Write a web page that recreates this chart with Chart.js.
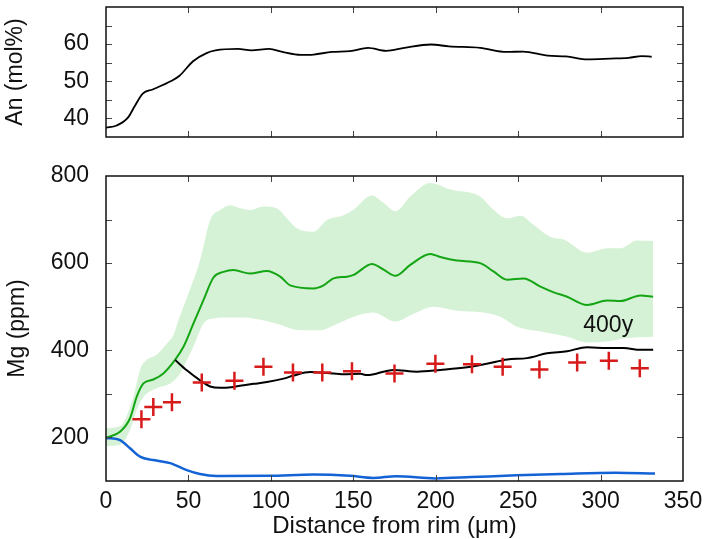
<!DOCTYPE html>
<html>
<head>
<meta charset="utf-8">
<script src="https://cdn.jsdelivr.net/npm/chart.js@4"></script>
<style>
  body { margin: 0; background: #fff; }
  #wrap { position: relative; width: 704px; height: 539px; }
  canvas { position: absolute; left: 0; }
</style>
</head>
<body>
<div id="wrap">
  <canvas id="an" width="704" height="150" style="top:0"></canvas>
  <canvas id="mg" width="704" height="389" style="top:150px"></canvas>
</div>
<script>
// top panel: An profile
const anX = [0, 6.5, 13.3, 17.4, 22.3, 28.3, 39.2, 44.6, 52.8, 61, 66.4, 80, 88.2, 99, 107, 118, 126, 137, 148, 159, 170, 181, 197, 208, 227, 243, 253, 268, 279, 292, 306, 317, 325, 331];
const anY = [37.5, 38.1, 40.2, 43.3, 46.7, 47.8, 50, 51.5, 55.4, 57.6, 58.3, 58.7, 58.3, 58.7, 57.9, 57.1, 57.2, 57.9, 58.1, 59, 58.2, 59, 59.9, 59.4, 59, 57.9, 58, 56.9, 56.7, 55.9, 56.1, 56.3, 56.8, 56.6];

// bottom panel: Mg
const greenX = [0, 8.5, 14.6, 18.6, 22.7, 28.7, 34.8, 41.9, 47, 53, 59.1, 65.2, 71.3, 77.3, 87.4, 97.6, 105.7, 111.7, 125.9, 132, 138, 146.2, 150.2, 161.3, 168.4, 175.5, 184.6, 196.7, 202.8, 212.9, 227, 235, 243.3, 253.4, 263.5, 271.6, 279.7, 291.8, 304, 312, 324.2, 331.9];
const greenY = [199, 213, 244, 293, 324, 333, 347, 378, 408, 461, 515, 567, 580, 584, 576, 582, 569, 549, 542, 549, 565, 569, 573, 598, 585, 571, 596, 621, 614, 606, 600, 581, 562, 565, 546, 533, 523, 504, 514, 513, 526, 523];

const upperX = [0, 8.5, 16.6, 20.6, 24.7, 30.8, 36.8, 40.9, 44, 49, 57.1, 63.2, 69.2, 75.3, 81.4, 87.4, 95.5, 103.6, 109.7, 115.8, 125.9, 134, 144.1, 150.2, 161.3, 168.4, 175.5, 184.6, 196.7, 208.9, 227, 233, 243.3, 251.3, 259.4, 269.6, 277.7, 291.8, 304, 312, 322.2, 331.9];
const upperY = [221, 226, 293, 355, 378, 390, 415, 435, 470, 520, 607, 699, 722, 733, 726, 722, 730, 726, 703, 680, 672, 699, 710, 723, 755, 738, 719, 753, 784, 769, 753, 730, 703, 709, 688, 660, 654, 624, 634, 634, 652, 651];

const lowerX = [0, 8.5, 14.6, 18.6, 22.7, 30.8, 38.9, 45, 49, 53, 59.1, 65.2, 77.3, 89.5, 103.6, 117.8, 130, 138, 150.2, 162.3, 175.5, 186.6, 198.7, 212.9, 229, 239.2, 249.3, 263.5, 279.7, 291.8, 304, 316.1, 331.9];
const lowerY = [180, 183, 217, 263, 293, 313, 324, 347, 377, 408, 461, 473, 475, 473, 461, 446, 446, 457, 477, 487, 466, 484, 500, 491, 487, 477, 454, 443, 431, 418, 420, 428, 431];

const blackX = [41.9, 49, 57.1, 63.2, 69.2, 77.3, 89.5, 97.6, 107.7, 113.8, 123.9, 134, 144.1, 154.3, 158.3, 174.4, 188.7, 202.8, 219, 231, 243.3, 255.4, 267.5, 279.7, 291.8, 304, 314, 324.2, 331.9];
const blackY = [378, 354, 331, 317, 314, 316, 323, 327, 335, 342, 350, 348, 345, 346, 343, 355, 351, 355, 361, 369, 379, 382, 393, 398, 407, 405, 405, 401, 401];

const blueX = [0, 8.5, 14.6, 20.6, 28.7, 38.9, 49, 57, 67, 99, 126, 148, 162, 176, 200, 221.5, 249, 276, 309, 333];
const blueY = [199, 194, 175, 156, 148, 141, 125, 116, 111.5, 112, 115, 112, 107, 111, 106, 109, 113, 116, 119, 117];

const measX = [21.5, 28.7, 40, 58.1, 77.9, 95.5, 113.4, 131.2, 149.2, 175, 199.8, 222, 240.6, 262.9, 285.8, 305, 323.8];
const measY = [242, 270, 281, 326, 330, 362, 349, 349, 352, 347, 369, 368, 362.5, 356, 372, 376, 359];

const anLabels = [40, 50, 60];
const mgLabels = [200, 400, 600, 800];
const modelLabel = '400y';

const pts = (xs, ys) => xs.map((x, i) => ({ x, y: ys[i] }));
const FONT = '"Liberation Sans", Arial, sans-serif';

// frame with inward ticks on all four sides
const frameTicks = {
  id: 'frameTicks',
  afterDraw(chart) {
    const { ctx, chartArea: a, scales } = chart;
    const line = (x1, y1, x2, y2) => { ctx.beginPath(); ctx.moveTo(x1, y1); ctx.lineTo(x2, y2); ctx.stroke(); };
    ctx.save();
    ctx.strokeStyle = '#444';
    ctx.lineWidth = 1;
    scales.x.ticks.forEach(t => {
      const p = Math.round(scales.x.getPixelForValue(t.value)) + 0.5;
      if (p < a.left + 2 || p > a.right - 2) return;
      line(p, a.bottom, p, a.bottom - 6);
      line(p, a.top, p, a.top + 6);
    });
    scales.y.ticks.forEach(t => {
      const p = Math.round(scales.y.getPixelForValue(t.value)) + 0.5;
      if (p < a.top + 2 || p > a.bottom - 2) return;
      line(a.left, p, a.left + 6, p);
      line(a.right, p, a.right - 6, p);
    });
    ctx.strokeStyle = '#111';
    ctx.lineWidth = 1.5;
    ctx.strokeRect(a.left, a.top, a.right - a.left, a.bottom - a.top);
    ctx.restore();
  }
};

const textLabel = {
  id: 'textLabel',
  afterDatasetsDraw(chart) {
    const { ctx, scales } = chart;
    ctx.save();
    ctx.font = '23px ' + FONT;
    ctx.fillStyle = '#111';
    ctx.textBaseline = 'alphabetic';
    ctx.fillText(modelLabel, scales.x.getPixelForValue(289.5), scales.y.getPixelForValue(442));
    ctx.restore();
  }
};

const common = {
  responsive: false,
  animation: false,
  plugins: { legend: { display: false }, tooltip: { enabled: false } },
  elements: { point: { radius: 0 } }
};

const fitY = s => { s.width = 106; s.paddingTop = 0; s.paddingBottom = 0; };

new Chart(document.getElementById('an'), {
  type: 'scatter',
  data: {
    datasets: [{
      data: pts(anX, anY),
      showLine: true,
      borderColor: '#000',
      borderWidth: 1.8,
      cubicInterpolationMode: 'monotone',
      pointRadius: 0
    }]
  },
  options: {
    ...common,
    layout: { padding: { top: 7, right: 21, bottom: 0, left: 0 } },
    scales: {
      x: {
        min: 0, max: 350,
        ticks: { stepSize: 50, display: false },
        grid: { display: false, drawTicks: false },
        border: { display: false },
        afterFit: s => { s.height = 13; s.paddingLeft = 0; s.paddingRight = 0; }
      },
      y: {
        min: 35, max: 70,
        ticks: {
          stepSize: 5, padding: 17, color: '#111', autoSkip: false,
          font: { family: FONT, size: 23 },
          callback: v => anLabels.includes(v) ? String(v) : ''
        },
        grid: { display: false, drawTicks: false },
        border: { display: false },
        title: { display: true, text: 'An (mol%)', color: '#111', font: { family: FONT, size: 23 }, padding: { top: 2, bottom: 0 } },
        afterFit: fitY
      }
    }
  },
  plugins: [frameTicks]
});

new Chart(document.getElementById('mg'), {
  type: 'scatter',
  data: {
    datasets: [
      { data: pts(measX, measY), pointStyle: 'cross', pointRadius: 9, pointBorderWidth: 2.5,
        borderColor: '#d71a1a', backgroundColor: '#d71a1a', showLine: false },
      { data: pts(blackX, blackY), showLine: true, borderColor: '#000', borderWidth: 2, cubicInterpolationMode: 'monotone' },
      { data: pts(greenX, greenY), showLine: true, borderColor: '#14a514', borderWidth: 2, cubicInterpolationMode: 'monotone' },
      { data: pts(blueX, blueY), showLine: true, borderColor: '#1463d6', borderWidth: 2.5, cubicInterpolationMode: 'monotone' },
      { data: pts(upperX, upperY), showLine: true, borderWidth: 0, borderColor: 'rgba(0,0,0,0)', cubicInterpolationMode: 'monotone' },
      { data: pts(lowerX, lowerY), showLine: true, borderWidth: 0, borderColor: 'rgba(0,0,0,0)', cubicInterpolationMode: 'monotone',
        fill: '-1', backgroundColor: 'rgb(214,242,214)' }
    ]
  },
  options: {
    ...common,
    plugins: { ...common.plugins, filler: { drawTime: 'beforeDatasetsDraw' } },
    layout: { padding: { top: 26, right: 21, bottom: 0, left: 0 } },
    scales: {
      x: {
        min: 0, max: 350,
        ticks: { stepSize: 50, padding: 7, color: '#111', font: { family: FONT, size: 23 }, maxRotation: 0, autoSkip: false },
        grid: { display: false, drawTicks: false },
        border: { display: false },
        title: { display: true, text: 'Distance from rim (μm)', color: '#111', font: { family: FONT, size: 24 }, padding: { top: 0, bottom: -2 } },
        afterFit: s => { s.height = 58; s.paddingLeft = 0; s.paddingRight = 0; }
      },
      y: {
        min: 100, max: 800,
        ticks: {
          stepSize: 100, padding: 17, color: '#111', autoSkip: false,
          font: { family: FONT, size: 23 },
          callback: v => mgLabels.includes(v) ? String(v) : ''
        },
        grid: { display: false, drawTicks: false },
        border: { display: false },
        title: { display: true, text: 'Mg (ppm)', color: '#111', font: { family: FONT, size: 23 }, padding: { top: 4, bottom: 0 } },
        afterFit: fitY
      }
    }
  },
  plugins: [frameTicks, textLabel]
});
</script>
</body>
</html>
